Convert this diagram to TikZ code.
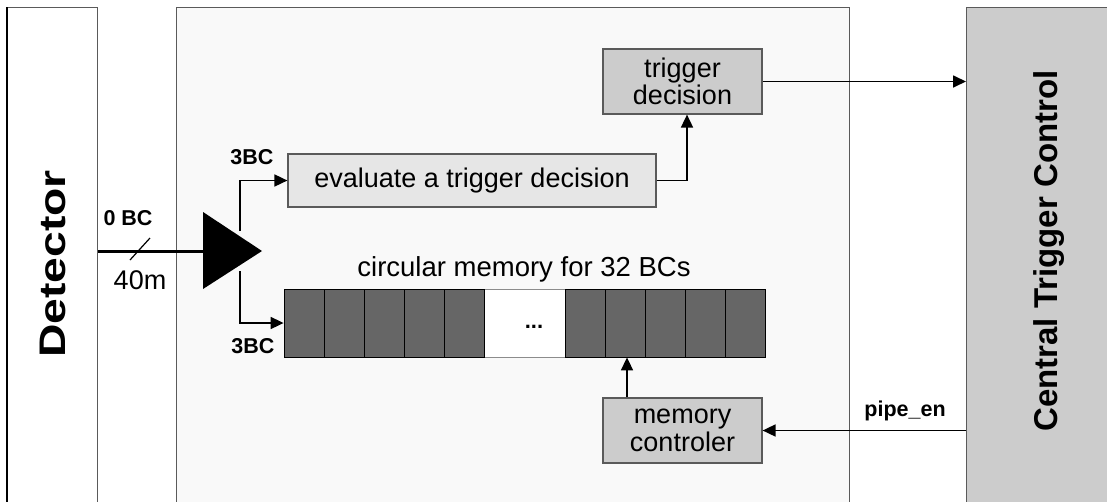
\documentclass[tikz,border=0pt]{standalone}
\usepackage{fontspec}
\setmainfont{Liberation Sans}
\usetikzlibrary{arrows.meta}
\definecolor{panel}{HTML}{F9F9F9}
\definecolor{boxgray}{HTML}{CCCCCC}
\definecolor{evalgray}{HTML}{E6E6E6}
\definecolor{cellgray}{HTML}{666666}
\definecolor{edgegray}{HTML}{5A5A5A}
\tikzset{
  column/.style={draw=edgegray, line width=1.2pt, anchor=north west, inner sep=0pt},
  block/.style={draw=edgegray, line width=1.2pt, fill=boxgray, inner sep=0pt,
    align=center, font=\fontsize{27}{27.5}\selectfont},
  cell/.style={draw=black, line width=0.8pt, fill=cellgray, inner sep=0pt,
    minimum width=40pt, minimum height=68pt},
  arr/.style={line width=1.7pt, -{Triangle[length=13pt,width=12pt]}},
  tag/.style={font=\bfseries\fontsize{21.5}{21.5}\selectfont, inner sep=0pt},
  title/.style={font=\bfseries\fontsize{33}{33}\selectfont, rotate=90, inner sep=0pt},
}
\begin{document}
\begin{tikzpicture}[x=1pt,y=-1pt]
\clip (0,0) rectangle (1107,501);
\fill[white] (0,0) rectangle (1107,501);

% three vertical columns
\node[column, fill=white, minimum width=90pt, minimum height=520pt] (det) at (7,7) {};
\node[column, fill=panel, minimum width=673pt, minimum height=520pt] (fe) at (176,7) {};
\node[column, fill=boxgray, minimum width=160pt, minimum height=520pt] (ctc) at (966,7) {};
\draw[line width=1.2pt] (det.north west) -- (det.south west);

\node[title, font=\bfseries\fontsize{37}{37}\selectfont] (detlabel) at (53,264) {\scalebox{1.25}[1]{Detector}};
\node[title] (ctclabel) at (1049,251) {Central Trigger Control};

% processing blocks
\node[block, minimum width=159pt, minimum height=65pt] (trig) at (682.5,81.5) {trigger\\decision};
\node[block, fill=evalgray, minimum width=368pt, minimum height=53pt] (eval) at (472,180.5) {evaluate a trigger decision};
\node[block, minimum width=159pt, minimum height=65pt] (mc) at (682.5,430.5) {memory\\controler};

% circular memory
\draw[draw=black!45, line width=0.8pt, fill=white] (484,289) rectangle (565,357);
\foreach \i/\x in {0/304,1/344,2/384,3/424,4/464,5/585,6/625,7/665,8/705,9/745}
  \node[cell] (c\i) at (\x,323) {};
\node[font=\bfseries\fontsize{22}{22}\selectfont] (dots) at (534,327) {...};
\node[font=\fontsize{27.5}{28}\selectfont, anchor=south] (memtitle) at (524,286) {circular memory for 32 BCs};

% splitter / amplifier
\coordinate (ampin) at (203,251);
\coordinate (ampup) at (240,231);
\coordinate (ampdn) at (240,271);
\fill (203,212) -- (262,251) -- (203,289) -- cycle;

% input bus
\draw[line width=3pt] (det.east |- ampin) -- (ampin);
\coordinate (slashA) at (130,260);
\coordinate (slashB) at (150,238);
\draw[line width=1.2pt] (slashA) -- (slashB);
\node[tag] (zerobc) at (128,218) {0 BC};
\node[font=\fontsize{27}{27}\selectfont, inner sep=0pt] (width) at (140,280) {40m};

% branches
\draw[arr] (ampup) |- (eval.west);
\draw[arr] (ampdn) |- (c0.west);
\node[tag] (bcup) at (252,157) {3BC};
\node[tag] (bcdn) at (253,346) {3BC};

% decision path
\draw[arr] (eval.east) -| ([xshift=4.5pt]trig.south);
\draw[arr] (trig.east) -- (trig.east -| ctc.west);

% pipeline enable path
\draw[arr] (ctc.west |- mc.east) -- (mc.east);
\node[tag] (pipeen) at (905,411) {pipe\_en};
\draw[arr] ([xshift=2pt]mc.north -| c6.south) -- ([xshift=2pt]c6.south);
\end{tikzpicture}
\end{document}
